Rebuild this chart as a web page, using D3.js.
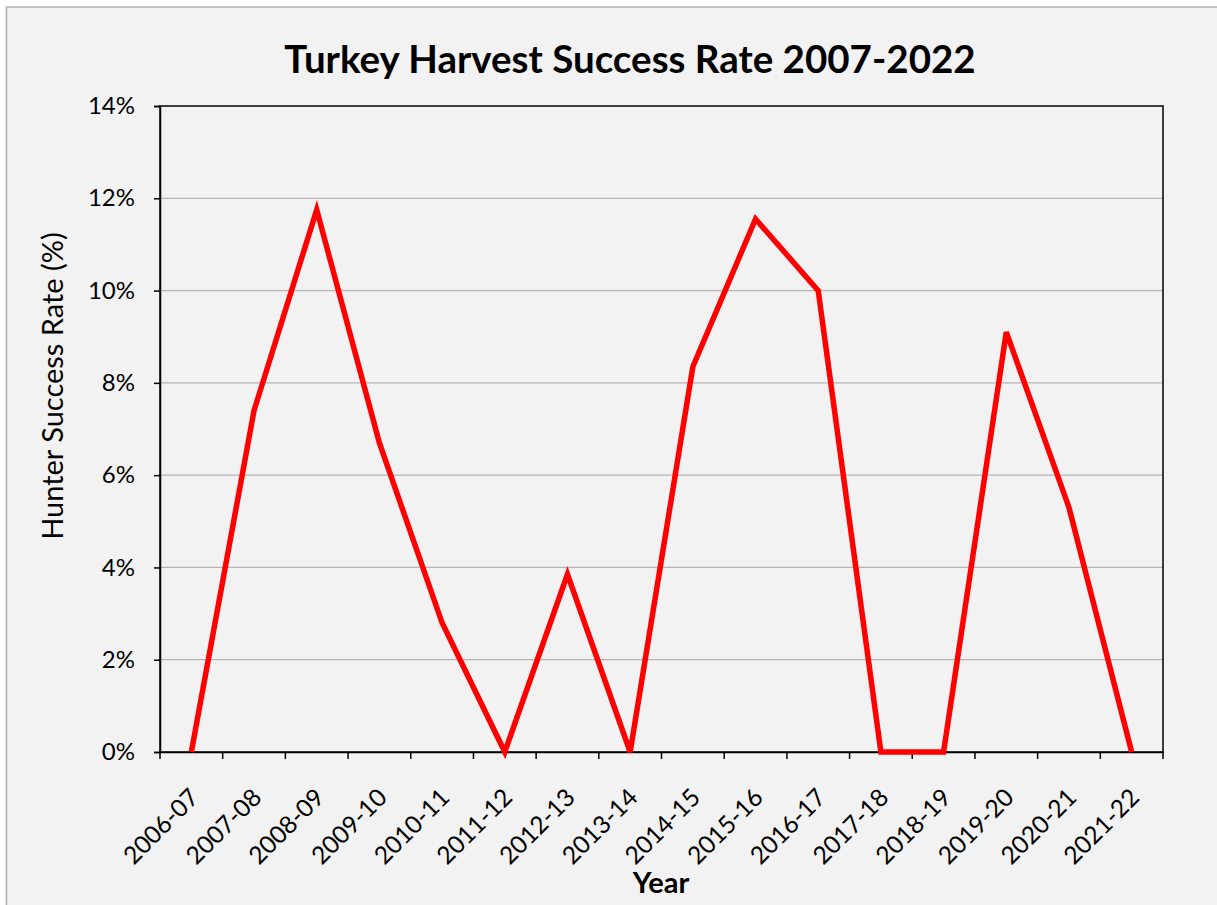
<!DOCTYPE html>
<html><head><meta charset="utf-8">
<script src="https://cdn.jsdelivr.net/npm/d3@7"></script>
<style>html,body{margin:0;padding:0;background:#fff;}svg{display:block;}</style>
</head><body>
<script>
const categories = ["2006-07","2007-08","2008-09","2009-10","2010-11","2011-12","2012-13","2013-14","2014-15","2015-16","2016-17","2017-18","2018-19","2019-20","2020-21","2021-22"];
const successRate = [0, 7.4, 11.75, 6.7, 2.8, 0, 3.85, 0, 8.35, 11.55, 10.0, 0, 0, 9.1, 5.3, 0];
const yTicks = [0, 2, 4, 6, 8, 10, 12, 14];
const titleText = "Turkey Harvest Success Rate 2007-2022";
const yTitle = "Hunter Success Rate (%)";
const xTitle = "Year";

const W = 1217, H = 905;
const font = "Lato, 'Open Sans', sans-serif";
const svg = d3.select("body").append("svg").attr("width", W).attr("height", H);

svg.append("rect").attr("x", 6.5).attr("y", 7).attr("width", W).attr("height", H)
  .attr("fill", "#f2f2f2").attr("stroke", "#b0b0b0").attr("stroke-width", 1.5);

const L = 160, R = 1163, T = 106, B = 752;
const x = d3.scaleBand().domain(categories).range([L, R]);
const y = d3.scaleLinear().domain([0, 14]).range([B, T]);

// gridlines
svg.append("g").selectAll("line").data(yTicks.filter(d => d > 0 && d < 14)).join("line")
  .attr("x1", L).attr("x2", R).attr("y1", d => y(d)).attr("y2", d => y(d))
  .attr("stroke", "#b4b4b4").attr("stroke-width", 1.2);

// plot border
svg.append("rect").attr("x", L).attr("y", T).attr("width", R - L).attr("height", B - T)
  .attr("fill", "none").attr("stroke", "#000").attr("stroke-width", 1.5);

// y axis
const yAxis = svg.append("g").attr("transform", `translate(${L},0)`)
  .call(d3.axisLeft(y).tickValues(yTicks).tickFormat(d => d + "%").tickSize(6).tickPadding(19));
yAxis.select(".domain").attr("stroke", "#000").attr("stroke-width", 1.5);
yAxis.selectAll(".tick line").attr("stroke", "#000").attr("stroke-width", 1.5);
yAxis.selectAll("text").attr("font-family", font).attr("font-size", 24).attr("fill", "#000");

// x axis with ticks at band boundaries
const xAxis = svg.append("g").attr("transform", `translate(0,${B})`)
  .call(d3.axisBottom(x).tickSize(0).tickPadding(10));
xAxis.select(".domain").attr("stroke", "#000").attr("stroke-width", 1.5);
xAxis.selectAll(".tick text")
  .attr("font-family", font).attr("font-size", 24.5).attr("fill", "#000")
  .attr("text-anchor", "end")
  .attr("y", 0).attr("x", 0).attr("dy", "0.35em")
  .attr("transform", "translate(3,41) rotate(-45)");
const boundaries = categories.map(c => x(c)).concat([x.range()[1]]);
svg.append("g").selectAll("line").data(boundaries).join("line")
  .attr("x1", d => d).attr("x2", d => d).attr("y1", B).attr("y2", B + 7)
  .attr("stroke", "#000").attr("stroke-width", 1.5);

// line
const line = d3.line().x((d, i) => x(categories[i]) + x.bandwidth() / 2).y(d => y(d));
svg.append("path").datum(successRate).attr("d", line)
  .attr("fill", "none").attr("stroke", "#ff0000").attr("stroke-width", 5.5)
  .attr("stroke-linejoin", "miter");

// titles
svg.append("text").attr("x", 630).attr("y", 73).attr("text-anchor", "middle")
  .attr("font-family", font).attr("font-weight", "bold").attr("font-size", 38.5).text(titleText);
svg.append("text").attr("transform", `translate(63,386) rotate(-90)`).attr("text-anchor", "middle")
  .attr("font-family", font).attr("font-size", 29).text(yTitle);
svg.append("text").attr("x", 661).attr("y", 893).attr("text-anchor", "middle")
  .attr("font-family", font).attr("font-weight", "bold").attr("font-size", 29).text(xTitle);
</script>
</body></html>
